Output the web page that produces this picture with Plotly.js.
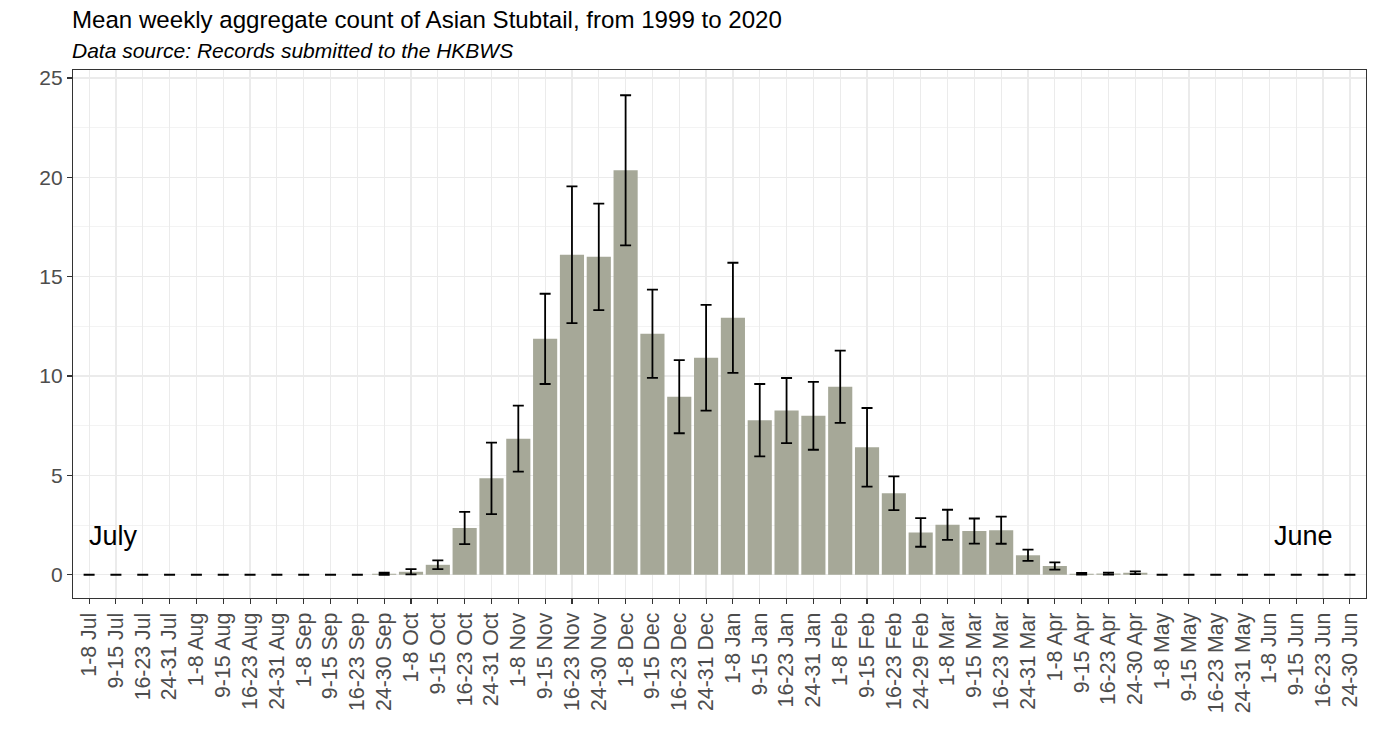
<!DOCTYPE html>
<html>
<head>
<meta charset="utf-8">
<script src="https://cdn.plot.ly/plotly-3.0.1.min.js"></script>
<style>html,body{margin:0;padding:0;background:#fff;}#chart{width:1379px;height:752px;}</style>
</head>
<body>
<div id="chart"></div>
<script>
const weeks = ["1-8 Jul","9-15 Jul","16-23 Jul","24-31 Jul","1-8 Aug","9-15 Aug","16-23 Aug","24-31 Aug",
  "1-8 Sep","9-15 Sep","16-23 Sep","24-30 Sep","1-8 Oct","9-15 Oct","16-23 Oct","24-31 Oct",
  "1-8 Nov","9-15 Nov","16-23 Nov","24-30 Nov","1-8 Dec","9-15 Dec","16-23 Dec","24-31 Dec",
  "1-8 Jan","9-15 Jan","16-23 Jan","24-31 Jan","1-8 Feb","9-15 Feb","16-23 Feb","24-29 Feb",
  "1-8 Mar","9-15 Mar","16-23 Mar","24-31 Mar","1-8 Apr","9-15 Apr","16-23 Apr","24-30 Apr",
  "1-8 May","9-15 May","16-23 May","24-31 May","1-8 Jun","9-15 Jun","16-23 Jun","24-30 Jun"];
const meanCount = [0,0,0,0,0,0,0,0,
  0,0,0,0.05,0.15,0.5,2.35,4.85,
  6.85,11.87,16.1,16.0,20.35,12.13,8.96,10.92,
  12.93,7.78,8.26,8.0,9.46,6.41,4.1,2.13,
  2.51,2.2,2.24,0.98,0.44,0.05,0.06,0.1,
  0,0,0,0,0,0,0,0];
const stdErr = [0,0,0,0,0,0,0,0,
  0,0,0,0.05,0.13,0.22,0.81,1.8,
  1.66,2.27,3.44,2.68,3.78,2.22,1.84,2.66,
  2.77,1.82,1.64,1.71,1.82,1.98,0.85,0.72,
  0.76,0.63,0.68,0.28,0.18,0.04,0.05,0.07,
  0,0,0,0,0,0,0,0];
const titleText = "Mean weekly aggregate count of Asian Stubtail, from 1999 to 2020";
const subtitleText = "Data source: Records submitted to the HKBWS";
const yTicks = [0,5,10,15,20,25];

const trace = {
  type: 'bar',
  x: weeks,
  y: meanCount,
  width: 0.9,
  marker: {color: '#A6A898', line: {width: 0}},
  error_y: {type: 'data', array: stdErr, visible: true, color: '#000000', thickness: 1.8, width: 5.5},
  hoverinfo: 'x+y'
};

const font = "'Liberation Sans', Arial, sans-serif";
const layout = {
  width: 1379, height: 752,
  margin: {l: 73, r: 13, t: 70, b: 154},
  paper_bgcolor: '#ffffff',
  plot_bgcolor: '#ffffff',
  showlegend: false,
  font: {family: font, color: '#4D4D4D'},
  xaxis: {
    type: 'category',
    range: [-0.6, 47.6],
    tickangle: -90,
    tickfont: {size: 21.3, color: '#4D4D4D', family: font},
    ticks: 'outside', ticklen: 5, tickcolor: '#333333', tickwidth: 1.1,
    showgrid: true, gridcolor: '#EBEBEB', gridwidth: 1.2,
    showline: true, linecolor: '#333333', linewidth: 1.2, mirror: true,
    zeroline: false, fixedrange: true
  },
  yaxis: {
    range: [-1.17, 25.4],
    tickvals: yTicks,
    ticktext: yTicks.map(String),
    tickfont: {size: 21, color: '#4D4D4D', family: font},
    ticks: 'outside', ticklen: 5, tickcolor: '#333333', tickwidth: 1.1,
    showgrid: true, gridcolor: '#EBEBEB', gridwidth: 1.2,
    minor: {dtick: 2.5, tick0: 0, showgrid: true, gridcolor: '#F0F0F0', gridwidth: 0.8, ticks: ''},
    showline: true, linecolor: '#333333', linewidth: 1.2, mirror: true,
    zeroline: false, fixedrange: true
  },
  annotations: [
    {text: titleText, xref: 'paper', yref: 'paper', x: 0, y: 1, xshift: -3, yshift: 51, xanchor: 'left', yanchor: 'middle', showarrow: false,
     font: {size: 24.1, color: '#000000', family: font}},
    {text: '<i>' + subtitleText + '</i>', xref: 'paper', yref: 'paper', x: 0, y: 1, xshift: -3, yshift: 20, xanchor: 'left', yanchor: 'middle', showarrow: false,
     font: {size: 21, color: '#000000', family: font}},
    {text: 'July', xref: 'x', yref: 'y', x: 0.9, y: 1.95, showarrow: false, xanchor: 'center', yanchor: 'middle',
     font: {size: 27, color: '#000000', family: font}},
    {text: 'June', xref: 'x', yref: 'y', x: 45.26, y: 1.95, showarrow: false, xanchor: 'center', yanchor: 'middle',
     font: {size: 27, color: '#000000', family: font}}
  ]
};

Plotly.newPlot('chart', [trace], layout, {displayModeBar: false, staticPlot: true});
</script>
</body>
</html>
